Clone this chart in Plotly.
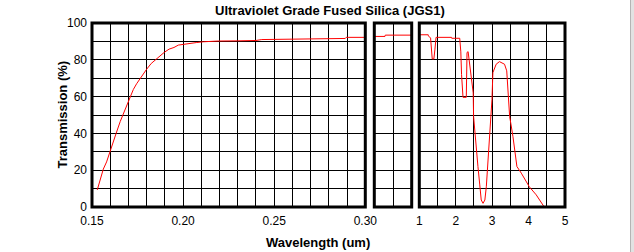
import plotly.graph_objects as go

# ---------------- data ----------------
uv_wl = [0.1529, 0.1545, 0.1562, 0.158, 0.1599, 0.1615, 0.1632, 0.1655, 0.1681, 0.1705,
         0.1727, 0.1745, 0.1764, 0.178, 0.180, 0.1825, 0.1855, 0.1875, 0.1896, 0.1923,
         0.195, 0.1974, 0.2005, 0.2038, 0.2075, 0.2112, 0.2194, 0.23, 0.24, 0.2432,
         0.255, 0.2652, 0.27, 0.289, 0.2895, 0.30]
uv_t = [9.3, 15, 20.6, 24.5, 29.7, 34.5, 39.9, 46.5, 53, 59.4,
        63.9, 67, 69.8, 72, 74.9, 78, 80.7, 82.5, 84, 85.8,
        86.7, 88, 88.5, 88.9, 89.4, 89.8, 90.2, 90.3, 90.5, 91.0,
        91.1, 91.2, 91.6, 91.6, 92.2, 92.2]

mid_wl = [0.30, 0.50, 0.505, 1.0]
mid_t = [92.7, 92.7, 93.4, 93.4]

ir_wl = [1.0, 1.246, 1.25, 1.31, 1.355, 1.40, 1.43, 1.46, 1.885, 1.89,
         2.11, 2.14, 2.16, 2.20, 2.29, 2.31, 2.34, 2.385, 2.43, 2.48,
         2.49, 2.57, 2.61, 2.66, 2.70, 2.75, 2.80, 2.84, 2.88, 2.93,
         2.995, 3.02, 3.11, 3.20, 3.34, 3.40, 3.43, 3.48, 3.57, 3.63,
         3.68, 3.80, 4.02, 4.21, 4.43]
ir_t = [93.6, 93.6, 93.0, 91.8, 80.5, 80.5, 85.8, 92.2, 92.2, 91.7,
        91.7, 84.3, 72, 59.6, 59.6, 84, 84.4, 78, 69, 62,
        49.3, 29.3, 22, 12, 3.8, 2, 3.8, 11, 23.9, 36.6,
        58.5, 73, 77.6, 79, 77.6, 74, 63, 49.3, 38.4, 28.4,
        22, 18.4, 11, 6.6, 0]

uv_tickvals = [0.15, 0.16, 0.17, 0.18, 0.19, 0.20, 0.21, 0.22, 0.23, 0.24,
               0.25, 0.26, 0.27, 0.28, 0.29, 0.30]
uv_ticktext = ["0.15", "", "", "", "", "0.20", "", "", "", "",
               "0.25", "", "", "", "", "0.30"]
mid_tickvals = [0.30, 0.65, 1.0]
ir_tickvals = [1.0, 1.5, 2.0, 2.5, 3.0, 3.5, 4.0, 4.5, 5.0]
ir_ticktext = ["1", "", "2", "", "3", "", "4", "", "5"]
y_tickvals = [0, 10, 20, 30, 40, 50, 60, 70, 80, 90, 100]
y_ticktext = ["0", "", "20", "", "40", "", "60", "", "80", "", "100"]

title_text = "Ultraviolet Grade Fused Silica (JGS1)"
x_title = "Wavelength (um)"
y_title = "Transmission (%)"

# ---------------- figure ----------------
FONT = "Liberation Sans, Arial, sans-serif"
W, H = 634, 252
L, R, T, B = 92, 69, 23, 45
PW, PH = W - L - R, H - T - B


def px_x(x):
    return (x - L) / PW


def px_y(y):
    return (H - B - y) / PH


line_style = dict(color="#ff0000", width=1)
fig = go.Figure()
fig.add_trace(go.Scatter(x=uv_wl, y=uv_t, xaxis="x", yaxis="y", mode="lines",
                         line=line_style, showlegend=False, hoverinfo="skip"))
fig.add_trace(go.Scatter(x=mid_wl, y=mid_t, xaxis="x2", yaxis="y2", mode="lines",
                         line=line_style, showlegend=False, hoverinfo="skip"))
fig.add_trace(go.Scatter(x=ir_wl, y=ir_t, xaxis="x3", yaxis="y3", mode="lines",
                         line=line_style, showlegend=False, hoverinfo="skip"))

common_x = dict(showgrid=True, gridcolor="black", gridwidth=1, zeroline=False,
                ticks="", showline=False, tickmode="array", ticklabelstandoff=5,
                tickfont=dict(family=FONT, size=12, color="black"))
common_y = dict(showgrid=True, gridcolor="black", gridwidth=1, zeroline=False,
                ticks="", showline=False, range=[0, 100], tickmode="array",
                tickvals=y_tickvals, ticktext=y_ticktext, domain=[0, 1],
                ticklabelstandoff=4,
                tickfont=dict(family=FONT, size=12, color="black"))

d1 = [0, px_x(365.3)]
d2 = [px_x(374.3), px_x(411.7)]
d3 = [px_x(419.3), 1]

fig.update_layout(
    width=W, height=H,
    margin=dict(l=L, r=R, t=T, b=B),
    paper_bgcolor="white", plot_bgcolor="white",
    xaxis=dict(common_x, domain=d1, range=[0.15, 0.30], anchor="y",
               tickvals=uv_tickvals, ticktext=uv_ticktext),
    xaxis2=dict(common_x, domain=d2, range=[0.30, 1.0], anchor="y2",
                tickvals=mid_tickvals, showticklabels=False),
    xaxis3=dict(common_x, domain=d3, range=[1.0, 5.0], anchor="y3",
                tickvals=ir_tickvals, ticktext=ir_ticktext),
    yaxis=dict(common_y, anchor="x"),
    yaxis2=dict(common_y, anchor="x2", showticklabels=False),
    yaxis3=dict(common_y, anchor="x3", showticklabels=False),
)

shapes = []
for ax in ["x", "x2", "x3"]:
    yref = "y" if ax == "x" else "y" + ax[1:]
    shapes.append(dict(type="rect", xref=ax + " domain", yref=yref + " domain",
                       x0=0, x1=1, y0=0, y1=1, layer="above",
                       line=dict(color="black", width=3), fillcolor="rgba(0,0,0,0)"))
# window edge strip on the right
shapes.append(dict(type="rect", xref="paper", yref="paper",
                   x0=px_x(630), x1=px_x(635), y0=px_y(253), y1=px_y(-1),
                   line=dict(width=0), fillcolor="#e2e2e2", layer="above"))
shapes.append(dict(type="line", xref="paper", yref="paper",
                   x0=px_x(630.5), x1=px_x(630.5), y0=px_y(253), y1=px_y(-1),
                   line=dict(color="#b4b4b4", width=1), layer="above"))
fig.update_layout(shapes=shapes)

fig.add_annotation(text="<b>" + title_text + "</b>", xref="paper", yref="paper",
                   x=px_x(329.5), y=px_y(10.5), xanchor="center", yanchor="middle",
                   showarrow=False, font=dict(family=FONT, size=13, color="black"))
fig.add_annotation(text="<b>" + x_title + "</b>", xref="paper", yref="paper",
                   x=px_x(318.3), y=px_y(242.5), xanchor="center", yanchor="middle",
                   showarrow=False, font=dict(family=FONT, size=13, color="black"))
fig.add_annotation(text="<b>" + y_title + "</b>", xref="paper", yref="paper",
                   x=px_x(61.5), y=px_y(115), xanchor="center", yanchor="middle",
                   textangle=-90, showarrow=False,
                   font=dict(family=FONT, size=13, color="black"))

fig.write_html("out.html")
